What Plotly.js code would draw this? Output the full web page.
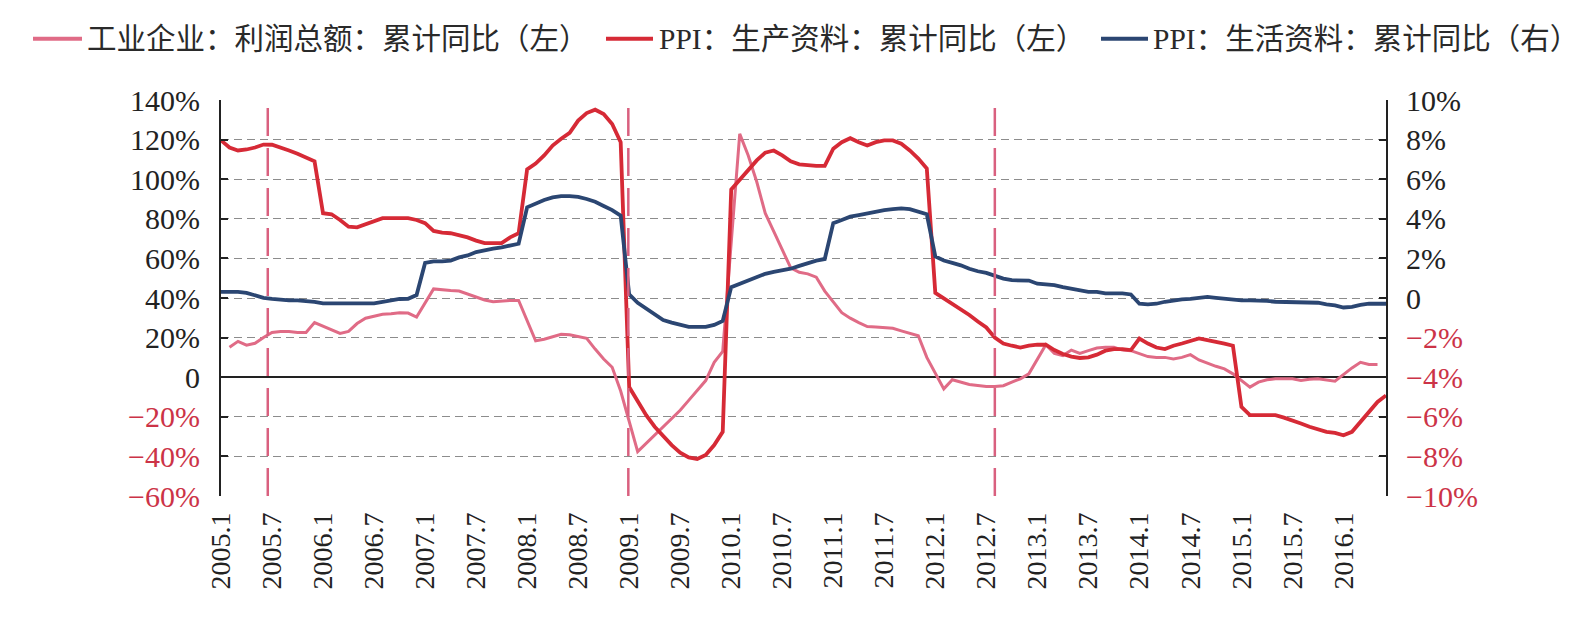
<!DOCTYPE html>
<html>
<head>
<meta charset="utf-8">
<script src="https://cdn.plot.ly/plotly-3.0.1.min.js"></script>
<style>html,body{margin:0;padding:0;background:#fff;}#chart{width:1586px;height:621px;}</style>
</head>
<body>
<div id="chart"></div>
<script>
// Month labels shown on the x axis (every 6 months, 2005.1 … 2016.1)
const tickLabels = ["2005.1","2005.7","2006.1","2006.7","2007.1","2007.7","2008.1","2008.7","2009.1","2009.7","2010.1","2010.7","2011.1","2011.7","2012.1","2012.7","2013.1","2013.7","2014.1","2014.7","2015.1","2015.7","2016.1"];

// Series names (legend)
const seriesNames = ["工业企业：利润总额：累计同比（左）", "PPI：生产资料：累计同比（左）", "PPI：生活资料：累计同比（右）"];

// 工业企业：利润总额：累计同比 (%), monthly from 2005.1 (null = Jan, no release)
const profitYoY = [null,15.1,18.1,16.2,17.1,20.1,22.6,23.1,23.1,22.6,22.6,27.6,
  null,24.2,22.1,23.1,27.1,29.8,30.9,31.8,32.1,32.6,32.4,30.4,
  null,44.6,44.1,43.8,43.5,42.1,40.6,39.0,38.1,38.5,38.8,38.8,
  null,18.4,19.2,20.4,21.7,21.4,20.4,19.6,14.2,9.2,5.0,-7.0,
  null,-37.6,-33.4,-29.3,-25.1,-20.9,-16.7,-11.7,-6.7,-1.7,7.5,13.0,
  null,122.9,112.0,98.7,82.8,73.6,64.4,55.2,53.0,52.2,50.5,43.5,
  null,32.6,29.8,27.6,25.6,25.4,25.1,24.7,23.4,22.2,20.9,10.0,
  null,-5.9,-1.3,-2.5,-3.7,-4.2,-4.7,-4.7,-4.3,-2.5,-0.8,1.7,
  null,16.4,12.0,10.9,13.7,12.0,13.4,14.7,15.1,15.1,13.7,13.4,
  null,10.4,10.0,10.0,9.2,10.0,11.4,8.7,7.0,5.5,4.2,1.7,
  null,-5.0,-2.5,-1.3,-0.8,-0.8,-0.8,-1.7,-1.0,-0.8,-1.3,-2.0,
  null,4.7,7.5,6.4,6.4];

// PPI：生产资料：累计同比 (%), monthly from 2005.1
const ppiProducer = [7.96,7.6,7.45,7.5,7.6,7.75,7.74,7.57,7.45,7.29,7.12,6.9,
  4.28,4.23,3.94,3.6,3.57,3.73,3.9,4.03,4.03,4.03,4.03,3.94,
  3.78,3.39,3.3,3.27,3.16,3.06,2.9,2.77,2.77,2.77,3.06,3.27,
  6.5,6.79,7.2,7.7,8.04,8.34,8.96,9.34,9.51,9.29,8.79,7.87,
  -4.5,-5.17,-5.92,-6.5,-7.0,-7.43,-7.81,-8.05,-8.13,-7.93,-7.43,-6.76,
  5.48,5.95,6.45,6.95,7.34,7.45,7.2,6.9,6.75,6.7,6.67,6.67,
  7.54,7.87,8.07,7.87,7.7,7.87,7.96,7.96,7.79,7.45,7.04,6.54,
  0.26,-0.02,-0.29,-0.57,-0.86,-1.19,-1.49,-2.0,-2.3,-2.41,-2.5,-2.41,
  -2.36,-2.36,-2.63,-2.83,-2.96,-3.03,-3.0,-2.86,-2.66,-2.58,-2.58,-2.63,
  -2.05,-2.3,-2.5,-2.58,-2.41,-2.3,-2.16,-2.04,-2.13,-2.2,-2.3,-2.41,
  -5.5,-5.92,-5.92,-5.92,-5.92,-6.04,-6.17,-6.34,-6.5,-6.64,-6.76,-6.81,
  -6.93,-6.76,-6.26,-5.76,-5.25,-4.92];

// PPI：生活资料：累计同比 (%), monthly from 2005.1
const ppiConsumer = [0.31,0.31,0.31,0.26,0.15,0.01,-0.04,-0.09,-0.12,-0.12,-0.15,-0.2,
  -0.27,-0.27,-0.27,-0.27,-0.27,-0.27,-0.27,-0.2,-0.12,-0.05,-0.04,0.15,
  1.77,1.85,1.85,1.89,2.05,2.15,2.32,2.42,2.49,2.56,2.66,2.74,
  4.58,4.78,4.95,5.08,5.15,5.15,5.11,5.0,4.86,4.65,4.44,4.16,
  0.18,-0.24,-0.52,-0.82,-1.11,-1.24,-1.37,-1.46,-1.46,-1.46,-1.36,-1.16,
  0.55,0.72,0.85,1.02,1.22,1.32,1.38,1.48,1.62,1.77,1.89,1.97,
  3.78,3.94,4.11,4.19,4.28,4.36,4.44,4.49,4.53,4.49,4.36,4.23,
  2.1,1.89,1.77,1.65,1.48,1.35,1.27,1.1,0.98,0.9,0.9,0.88,
  0.72,0.68,0.65,0.55,0.48,0.38,0.31,0.31,0.23,0.23,0.23,0.18,
  -0.29,-0.32,-0.29,-0.19,-0.12,-0.07,-0.04,0.01,0.06,0.01,-0.04,-0.1,
  -0.12,-0.12,-0.12,-0.15,-0.19,-0.2,-0.2,-0.2,-0.2,-0.24,-0.32,-0.37,
  -0.48,-0.45,-0.35,-0.29,-0.29,-0.29];

// Left/right axis tick values
const leftTicks = [-60,-40,-20,0,20,40,60,80,100,120,140];
const rightTicks = [-10,-8,-6,-4,-2,0,2,4,6,8,10];
// Month index of the vertical dashed reference lines
const refLines = [5.5, 47.9, 91];

const COLORS = ['#e06b86', '#d62a36', '#2b4672'];
const NEG = '#cc3347';
const fmt = (v) => {
  if (v === 0) return '0';
  if (v < 0) return '<span style="color:' + NEG + '">\u2212' + Math.abs(v) + '%</span>';
  return v + '%';
};
const idx = (arr) => arr.map((_, i) => i);

const traces = [
  {x: idx(profitYoY), y: profitYoY, name: seriesNames[0], type: 'scatter', mode: 'lines',
   connectgaps: true, line: {color: COLORS[0], width: 3}, yaxis: 'y'},
  {x: idx(ppiProducer), y: ppiProducer, name: seriesNames[1], type: 'scatter', mode: 'lines',
   line: {color: COLORS[1], width: 3.8}, yaxis: 'y2'},
  {x: idx(ppiConsumer), y: ppiConsumer, name: seriesNames[2], type: 'scatter', mode: 'lines',
   line: {color: COLORS[2], width: 3.8}, yaxis: 'y2'}
];

// geometry of the plot area (px) for placing the legend outside it
const W = 1586, H = 621, L = 221, R = 200, T = 99.5, B = 124.5;
const PW = W - L - R, PH = H - T - B;
const px2x = (px) => (px - L) / PW;
const py2y = (py) => (H - B - py) / PH;

// custom one-row legend: [sample start, sample end, text start] in px
const legendPos = [[33, 82, 86], [606, 653, 658], [1101, 1148, 1152]];
const legendY = 38;

const legendShapes = legendPos.map((p, i) => ({type: 'line', xref: 'paper', yref: 'paper',
  x0: px2x(p[0]), x1: px2x(p[1]), y0: py2y(legendY), y1: py2y(legendY),
  line: {color: COLORS[i], width: 4}}));
const legendAnn = legendPos.map((p, i) => ({xref: 'paper', yref: 'paper', x: px2x(p[2]), y: py2y(legendY),
  xanchor: 'left', yanchor: 'middle', showarrow: false, borderpad: 0, text: seriesNames[i],
  font: {family: '"Liberation Serif", "Noto Sans CJK SC", serif', size: 29.5, color: '#2a2a2a'}}));

const FONT = '"Liberation Serif", "Times New Roman", serif';
const layout = {
  width: W, height: H,
  margin: {l: L, r: R, t: T, b: B},
  paper_bgcolor: '#fff', plot_bgcolor: '#fff',
  font: {family: FONT, size: 30, color: '#222'},
  showlegend: false,
  xaxis: {range: [0, 137], tickvals: tickLabels.map((_, i) => i * 6), ticktext: tickLabels, tickangle: -90,
          showgrid: false, zeroline: false, showline: false, ticks: '', ticklen: 0,
          tickfont: {family: FONT, size: 28, color: '#222'}, ticklabelstandoff: 10},
  yaxis: {range: [-60, 140], tickvals: leftTicks, ticktext: leftTicks.map(fmt), showgrid: true,
          gridcolor: '#8c8c8c', griddash: '8px,5px', gridwidth: 1,
          zeroline: true, zerolinecolor: '#222', zerolinewidth: 2,
          showline: true, linecolor: '#222', linewidth: 2, ticks: 'inside', ticklen: 7, tickcolor: '#222', tickwidth: 2,
          tickfont: {family: FONT, size: 30, color: '#222'}, ticklabelstandoff: 13},
  yaxis2: {range: [-10, 10], overlaying: 'y', side: 'right', tickvals: rightTicks, ticktext: rightTicks.map(fmt),
           showgrid: false, zeroline: false, showline: true, linecolor: '#222', linewidth: 2,
           ticks: 'inside', ticklen: 7, tickcolor: '#222', tickwidth: 2,
           tickfont: {family: FONT, size: 30, color: '#222'}, ticklabelstandoff: 12},
  shapes: refLines.map(x => ({type: 'line', xref: 'x', yref: 'paper', x0: x, x1: x, y0: 0, y1: 0.99,
                              line: {color: '#d9607f', width: 2.5, dash: '28px,12px'}})).concat(legendShapes),
  annotations: legendAnn
};

Plotly.newPlot('chart', traces, layout, {displayModeBar: false, staticPlot: true});
</script>
</body>
</html>
